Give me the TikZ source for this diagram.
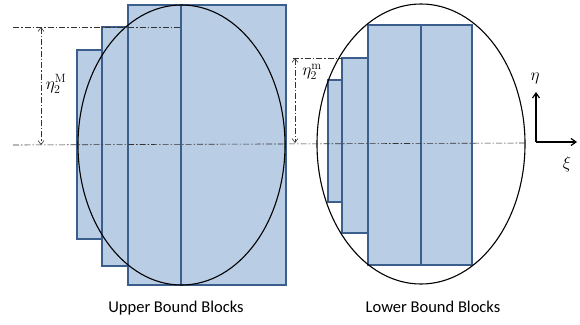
\documentclass[tikz,border=0pt]{standalone}
\usepackage[no-math]{fontspec}
\setmainfont{Carlito}
\usepackage{tikz}
\usetikzlibrary{arrows.meta,positioning,shapes.geometric}
\definecolor{blockfill}{HTML}{B9CDE5}
\definecolor{blockline}{HTML}{3B5E8C}
\begin{document}
\begin{tikzpicture}[x=1pt,y=-1pt,>={Straight Barb[length=5pt,width=7pt]},
  font=\fontsize{16.5}{20}\selectfont,
  block/.style={draw=blockline,fill=blockfill,line width=1.4pt,inner sep=0pt,outer sep=0pt,anchor=north west},
  outline/.style={draw,ellipse,line width=1.1pt,inner sep=0pt,minimum width=207pt,minimum height=280pt},
  centerline/.style={line width=0.6pt,black!80,dash pattern=on 6pt off 2pt on 1.5pt off 2pt},
  dimline/.style={centerline,<->,>={Straight Barb[length=4pt,width=6pt]}}]
\useasboundingbox (0,0) rectangle (580,324);
% upper bound blocks
\node[block,minimum width=25pt,minimum height=189pt] (ua) at (77,50) {};
\node[block,minimum width=26pt,minimum height=239pt] (ub) at (102,27) {};
\node[block,minimum width=53pt,minimum height=280pt] (uc) at (128,5) {};
\node[block,minimum width=105pt,minimum height=280pt] (ud) at (181,5) {};
\node[outline] (uell) at (181.5,145) {};
% lower bound blocks
\node[block,minimum width=14pt,minimum height=122pt] (la) at (328,80) {};
\node[block,minimum width=26pt,minimum height=175pt] (lb) at (342,58) {};
\node[block,minimum width=53pt,minimum height=240pt] (lc) at (368,25) {};
\node[block,minimum width=51pt,minimum height=240pt] (ld) at (421,25) {};
\node[outline,minimum width=208pt] (lell) at (421,144) {};
% center lines and dimensions
\coordinate (axl) at (13,145);
\coordinate (axr) at (526,143);
\draw[centerline] (axl) -- (axr);
\draw[centerline] (13,27) -- (uc.north east |- ub.north);
\draw[centerline] (293,58) -- (lb.north west);
\coordinate (mtop) at (41,27);
\coordinate (mbot) at (41,145);
\draw[dimline] (mtop) -- (mbot);
\node (etaMl) at (56,84) {$\eta_2^{\mathrm{M}}$};
\coordinate (ntop) at (295,58);
\coordinate (nbot) at (295,143);
\draw[dimline] (ntop) -- (nbot);
\node (etaml) at (312,72) {$\eta_2^{\mathrm{m}}$};
% local axes
\coordinate (orig) at (536,142);
\coordinate (etaend) at (536,92);
\coordinate (xiend) at (577,142);
\draw[->,line width=1.2pt] (orig) -- (etaend);
\draw[->,line width=1.2pt] (orig) -- (xiend);
\node (etal) at (535,78) {$\eta$};
\node (xil) at (567,164) {$\xi$};
% captions
\node (ubcap) at (176,308) {Upper Bound Blocks};
\node (lbcap) at (433,307) {Lower Bound Blocks};
\end{tikzpicture}
\end{document}
